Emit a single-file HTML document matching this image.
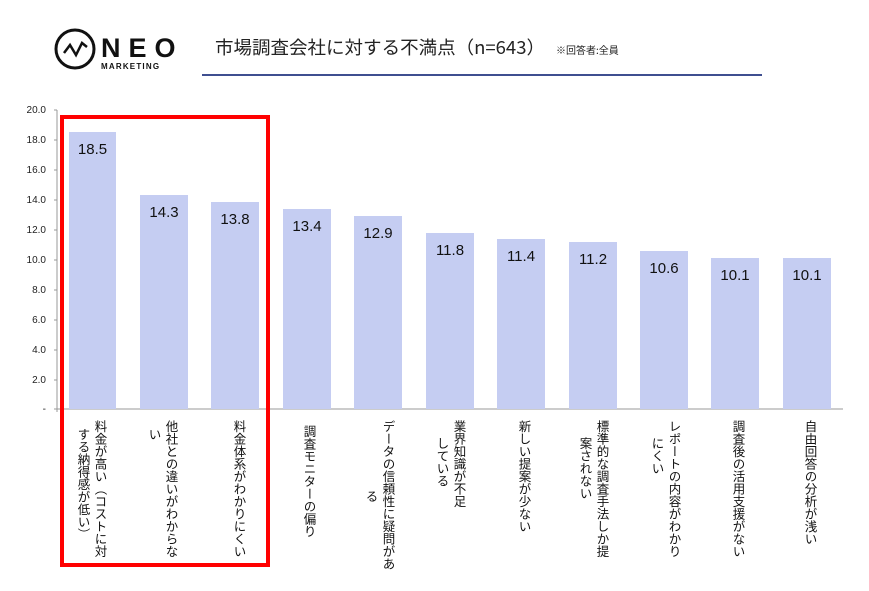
<!DOCTYPE html>
<html><head><meta charset="utf-8"><style>
body{margin:0;background:#fff;width:869px;height:591px;overflow:hidden;font-family:"Liberation Sans","Noto Sans CJK JP",sans-serif;}
</style></head><body>
<svg width="869" height="591" xmlns="http://www.w3.org/2000/svg" style="position:absolute;left:0;top:0">
<circle cx="75" cy="49" r="19" fill="none" stroke="#111" stroke-width="3"/>
<polyline points="64,53 70,45 76,55 82,43 87,47" fill="none" stroke="#111" stroke-width="2.5"/>
<text x="101" y="57" font-size="27" font-weight="bold" letter-spacing="8" fill="#111">NEO</text>
<text x="101" y="69" font-size="8" font-weight="bold" letter-spacing="1.2" fill="#111">MARKETING</text>
<text x="215" y="54" font-size="18" fill="#222" font-family="Noto Sans CJK JP, sans-serif" textLength="330" lengthAdjust="spacingAndGlyphs">市場調査会社に対する不満点（n=643）</text>
<text x="556" y="54" font-size="10" fill="#222" font-family="Noto Sans CJK JP, sans-serif">※回答者:全員</text>
<line x1="202" y1="75" x2="762" y2="75" stroke="#3f4f90" stroke-width="2"/>
<g font-size="10" fill="#222" text-anchor="end">
<text x="46" y="113">20.0</text><text x="46" y="143">18.0</text><text x="46" y="173">16.0</text><text x="46" y="203">14.0</text><text x="46" y="233">12.0</text><text x="46" y="263">10.0</text><text x="46" y="293">8.0</text><text x="46" y="323">6.0</text><text x="46" y="353">4.0</text><text x="46" y="383">2.0</text><text x="46" y="412">-</text>
</g>
<line x1="57" y1="110" x2="57" y2="412" stroke="#999"/>
<line x1="54" y1="409" x2="843" y2="409" stroke="#999"/>
<g stroke="#999">
<line x1="54" y1="110" x2="57" y2="110"/><line x1="54" y1="140" x2="57" y2="140"/><line x1="54" y1="170" x2="57" y2="170"/><line x1="54" y1="200" x2="57" y2="200"/><line x1="54" y1="230" x2="57" y2="230"/><line x1="54" y1="260" x2="57" y2="260"/><line x1="54" y1="290" x2="57" y2="290"/><line x1="54" y1="320" x2="57" y2="320"/><line x1="54" y1="350" x2="57" y2="350"/><line x1="54" y1="380" x2="57" y2="380"/>
</g>
<g fill="#c5cdf2">
<rect x="69" y="132" width="47" height="277"/>
<rect x="140" y="195" width="48" height="214"/>
<rect x="211" y="202" width="48" height="207"/>
<rect x="283" y="209" width="48" height="200"/>
<rect x="354" y="216" width="48" height="193"/>
<rect x="426" y="233" width="48" height="176"/>
<rect x="497" y="239" width="48" height="170"/>
<rect x="569" y="242" width="48" height="167"/>
<rect x="640" y="251" width="48" height="158"/>
<rect x="711" y="258" width="48" height="151"/>
<rect x="783" y="258" width="48" height="151"/>
</g>
<g font-size="15" fill="#111" text-anchor="middle">
<text x="92.5" y="154">18.5</text><text x="164" y="217">14.3</text><text x="235" y="224">13.8</text><text x="307" y="231">13.4</text><text x="378" y="238">12.9</text><text x="450" y="255">11.8</text><text x="521" y="261">11.4</text><text x="593" y="264">11.2</text><text x="664" y="273">10.6</text><text x="735" y="280">10.1</text><text x="807" y="280">10.1</text>
</g>
<g font-size="12.5" fill="#111" font-family="Noto Sans CJK JP, sans-serif" style="writing-mode:vertical-rl">
<text x="101" y="420">料金が高い（コストに対</text><text x="84" y="428">する納得感が低い）</text>
<text x="172" y="420">他社との違いがわからな</text><text x="155" y="428">い</text>
<text x="240" y="420">料金体系がわかりにくい</text>
<text x="310" y="425">調査モニターの偏り</text>
<text x="389" y="420">データの信頼性に疑問があ</text><text x="372" y="490">る</text>
<text x="460" y="420">業界知識が不足</text><text x="443" y="437">している</text>
<text x="525" y="420">新しい提案が少ない</text>
<text x="603" y="420">標準的な調査手法しか提</text><text x="586" y="437">案されない</text>
<text x="675" y="420">レポートの内容がわかり</text><text x="658" y="437">にくい</text>
<text x="739" y="420">調査後の活用支援がない</text>
<text x="811" y="420">自由回答の分析が浅い</text>
</g>
<rect x="62" y="117" width="206" height="448" fill="none" stroke="#f00" stroke-width="4"/>
</svg>
</body></html>
